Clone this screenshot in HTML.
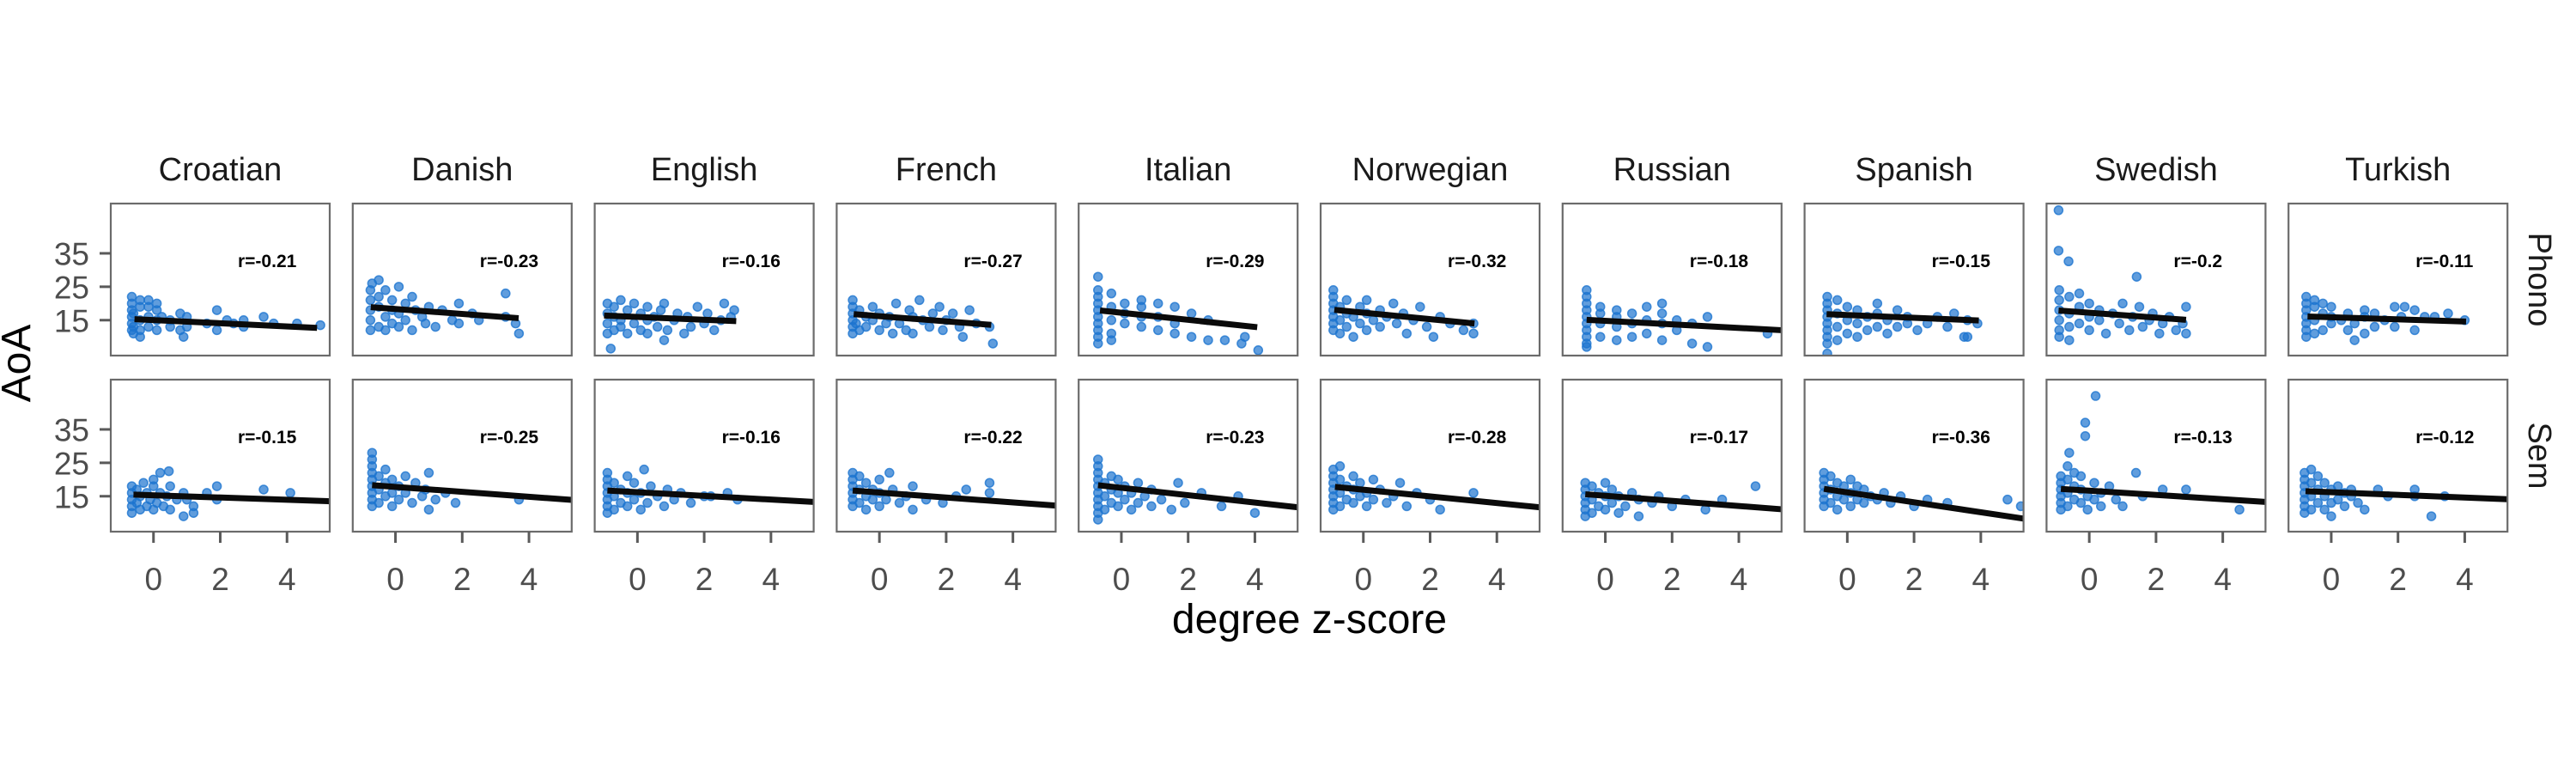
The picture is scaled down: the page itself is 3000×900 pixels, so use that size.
<!DOCTYPE html>
<html><head><meta charset="utf-8">
<style>
html,body{margin:0;padding:0;background:#fff;width:3000px;height:900px;overflow:hidden}
svg{display:block}
text{font-family:"Liberation Sans",sans-serif}
</style></head>
<body>
<svg id="chart" width="3000" height="900" viewBox="0 0 3000 900" xmlns="http://www.w3.org/2000/svg">
<text x="0" y="0" font-size="48" fill="#000" text-anchor="middle" transform="translate(35,423) rotate(-90)">AoA</text>
<text x="1525" y="737" font-size="48" fill="#000" text-anchor="middle">degree z-score</text>
<text x="0" y="0" font-size="38" fill="#1a1a1a" text-anchor="middle" transform="translate(2945,325.5) rotate(90)">Phono</text>
<text x="0" y="0" font-size="38" fill="#1a1a1a" text-anchor="middle" transform="translate(2945,530.5) rotate(90)">Sem</text>
</svg>
<script>
const languages = ["Croatian","Danish","English","French","Italian","Norwegian","Russian","Spanish","Swedish","Turkish"];
const rows = ["Phono","Sem"];
const yTicks = [15,25,35];
const xTicks = [0,2,4];
const rPhono = ["r=-0.21","r=-0.23","r=-0.16","r=-0.27","r=-0.29","r=-0.32","r=-0.18","r=-0.15","r=-0.2","r=-0.11"];
const rSem = ["r=-0.15","r=-0.25","r=-0.16","r=-0.22","r=-0.23","r=-0.28","r=-0.17","r=-0.36","r=-0.13","r=-0.12"];
// regression line endpoints (x0,x1,y0,y1)
const linePhonoX0 = [-0.57,-0.74,-1.0,-0.77,-0.64,-0.87,-0.56,-0.62,-0.92,-0.71];
const linePhonoX1 = [4.9,3.69,2.96,3.35,4.07,3.33,5.28,3.94,2.9,4.04];
const linePhonoY0 = [15.3,18.9,16.4,16.8,17.9,18.1,15.1,16.8,17.9,16.1];
const linePhonoY1 = [12.7,15.6,14.7,13.6,12.9,14.0,12.0,14.9,15.1,14.6];
const lineSemX0 = [-0.6,-0.7,-0.9,-0.8,-0.7,-0.85,-0.6,-0.7,-0.85,-0.77];
const lineSemX1 = [5.28,5.28,5.28,5.28,5.28,5.28,5.28,5.28,5.28,5.28];
const lineSemY0 = [15.5,18.3,16.7,16.7,18.3,17.8,15.6,17.2,17.2,16.5];
const lineSemY1 = [13.5,13.9,13.3,12.2,11.7,11.7,11.1,8.3,13.3,14.1];

const ptsCroatianPhono = [[-0.65,12],[-0.65,14],[-0.65,16],[-0.65,18],[-0.65,20],[-0.65,22],[-0.6,13],[-0.6,17],[-0.6,11],[-0.4,12],[-0.4,15],[-0.4,19],[-0.4,21],[-0.4,10],[-0.15,13],[-0.15,16],[-0.15,19],[-0.15,21],[0.1,12],[0.1,15],[0.1,18],[0.1,20],[0.25,16],[0.5,15],[0.5,13],[0.8,17],[0.8,12],[0.9,10],[1.0,16],[1.0,13],[1.6,14],[1.9,18],[1.9,12],[2.2,15],[2.4,14],[2.7,15],[2.7,13],[3.3,16],[3.6,14],[4.3,14],[5.0,13.5]];
const ptsDanishPhono = [[-0.75,12],[-0.75,15],[-0.75,18],[-0.75,21],[-0.75,24],[-0.7,26],[-0.5,27],[-0.5,13],[-0.5,19],[-0.5,22],[-0.3,24],[-0.3,16],[-0.3,12],[-0.1,14],[-0.1,18],[-0.1,21],[0.1,25],[0.1,17],[0.1,13],[0.3,20],[0.3,15],[0.5,22],[0.5,12],[0.6,18],[0.8,16],[0.9,14],[1.0,19],[1.2,13],[1.4,18],[1.7,15],[1.9,20],[1.9,14],[2.3,17],[2.5,15],[3.3,16],[3.6,14],[3.3,23],[3.7,11]];
const ptsEnglishPhono = [[-0.9,11],[-0.9,14],[-0.9,17],[-0.9,20],[-0.7,12],[-0.7,16],[-0.7,19],[-0.5,13],[-0.5,21],[-0.5,15],[-0.3,11],[-0.3,18],[-0.1,14],[-0.1,20],[0.1,12],[0.1,17],[0.3,15],[0.3,19],[0.3,11],[0.5,16],[0.6,13],[0.7,18],[0.8,20],[0.9,12],[1.1,15],[1.2,17],[1.4,11],[1.5,16],[1.6,13],[1.8,19],[2.0,14],[2.1,17],[2.3,12],[2.5,15],[2.6,20],[2.8,16],[2.9,18],[-0.8,6.5],[0.8,9]];
const ptsFrenchPhono = [[-0.8,11],[-0.8,13],[-0.8,15],[-0.8,17],[-0.8,19],[-0.8,21],[-0.7,14],[-0.6,12],[-0.6,18],[-0.4,16],[-0.4,13],[-0.2,15],[-0.2,19],[0,12],[0,17],[0.2,14],[0.3,16],[0.4,11],[0.5,20],[0.6,14],[0.8,12],[0.9,18],[1.0,16],[1.2,21],[1.3,15],[1.5,13],[1.6,17],[1.8,19],[1.9,12],[2.0,15],[2.2,17],[2.4,13],[2.5,10],[2.7,18],[2.9,14],[3.3,13],[3.4,8],[1.0,11]];
const ptsItalianPhono = [[-0.7,10],[-0.7,12],[-0.7,14],[-0.7,16],[-0.7,18],[-0.7,20],[-0.7,22],[-0.7,24],[-0.7,28],[-0.7,8],[-0.3,11],[-0.3,15],[-0.3,19],[-0.3,23],[-0.3,9],[0.1,14],[0.1,17],[0.1,20],[0.6,13],[0.6,16],[0.6,19],[0.6,21],[1.1,12],[1.1,16],[1.1,20],[1.6,11],[1.6,14],[1.6,19],[2.1,10],[2.1,17],[2.6,9],[2.6,15],[3.1,9],[3.6,8],[3.7,10],[4.1,6]];
const ptsNorwegianPhono = [[-0.9,12],[-0.9,14],[-0.9,16],[-0.9,18],[-0.9,20],[-0.9,22],[-0.9,24],[-0.7,11],[-0.7,15],[-0.7,19],[-0.5,13],[-0.5,17],[-0.5,21],[-0.3,10],[-0.3,16],[-0.1,14],[-0.1,19],[0.1,12],[0.1,17],[0.1,21],[0.3,15],[0.5,18],[0.5,13],[0.7,16],[0.9,20],[1.0,14],[1.2,17],[1.3,11],[1.5,15],[1.7,19],[1.9,13],[2.1,10],[2.3,16],[2.6,14],[3.0,12],[3.3,14],[3.3,11]];
const ptsRussianPhono = [[-0.56,8],[-0.56,10],[-0.56,12],[-0.56,14],[-0.56,16],[-0.56,18],[-0.56,20],[-0.56,22],[-0.56,24],[-0.56,7],[-0.15,10],[-0.15,14],[-0.15,17],[-0.15,19],[0.34,9],[0.34,13],[0.34,16],[0.34,18],[0.8,10],[0.8,14],[0.8,17],[1.24,11],[1.24,15],[1.24,19],[1.7,9],[1.7,14],[1.7,20],[1.7,17],[2.14,12],[2.14,15],[2.6,14],[2.6,8],[3.06,7],[3.06,16],[4.86,11]];
const ptsSpanishPhono = [[-0.6,8],[-0.6,10],[-0.6,12],[-0.6,14],[-0.6,16],[-0.6,18],[-0.6,20],[-0.6,22],[-0.6,5],[-0.3,9],[-0.3,13],[-0.3,17],[-0.3,21],[0,11],[0,15],[0,19],[0.3,10],[0.3,14],[0.3,18],[0.6,12],[0.6,16],[0.9,13],[0.9,17],[0.9,20],[1.2,11],[1.2,15],[1.5,18],[1.5,13],[1.8,14],[1.8,16],[2.1,12],[2.4,14],[2.7,16],[3.0,13],[3.2,17],[3.5,10],[3.6,15],[3.9,14],[3.6,10]];
const ptsSwedishPhono = [[-0.92,47.9],[-0.92,35.8],[-0.62,32.6],[1.42,28],[-0.9,12],[-0.9,15],[-0.9,18],[-0.9,21],[-0.9,24],[-0.9,10],[-0.6,13],[-0.6,17],[-0.6,22],[-0.6,9],[-0.3,14],[-0.3,19],[-0.3,23],[0,12],[0,16],[0,20],[0.3,15],[0.3,18],[0.5,11],[0.7,17],[0.9,14],[1.0,20],[1.2,12],[1.3,16],[1.5,19],[1.6,13],[1.8,15],[1.9,17],[2.1,11],[2.2,14],[2.4,16],[2.6,12],[2.8,14],[2.9,19],[2.9,11]];
const ptsTurkishPhono = [[-0.75,10],[-0.75,12],[-0.75,14],[-0.75,16],[-0.75,18],[-0.75,20],[-0.75,22],[-0.5,11],[-0.5,15],[-0.5,19],[-0.5,21],[-0.25,12],[-0.25,17],[-0.25,20],[0,14],[0,16],[0,19],[0.3,15],[0.5,17],[0.5,12],[0.7,9],[0.7,14],[1.0,16],[1.0,11],[1.0,18],[1.3,13],[1.3,17],[1.6,15],[1.9,13],[1.9,19],[2.1,16],[2.2,19],[2.5,18],[2.5,12],[2.8,16],[3.1,16],[3.5,17],[4.0,15]];

const ptsCroatianSem = [[-0.65,12],[-0.65,14],[-0.65,16],[-0.65,18],[-0.65,10],[-0.5,13],[-0.5,17],[-0.4,11],[-0.4,15],[-0.3,19],[-0.2,12],[-0.2,16],[-0.1,14],[0,18],[0,20],[0,11],[0.1,13],[0.2,16],[0.2,22],[0.3,12],[0.4,15],[0.5,18],[0.5,11],[0.7,14],[0.9,9],[0.9,16],[1.0,14],[1.2,10],[1.2,12],[0.46,22.5],[1.6,16],[1.9,18],[1.9,14],[3.3,17],[4.1,16]];
const ptsDanishSem = [[-0.7,12],[-0.7,14],[-0.7,16],[-0.7,18],[-0.7,20],[-0.7,22],[-0.7,24],[-0.7,26],[-0.7,28],[-0.5,13],[-0.5,17],[-0.5,21],[-0.3,15],[-0.3,19],[-0.3,23],[-0.1,12],[-0.1,16],[-0.1,20],[0.1,14],[0.1,18],[0.3,16],[0.3,21],[0.5,13],[0.6,19],[0.8,15],[0.9,17],[1.0,22],[1.2,14],[1.5,16],[1.8,13],[3.7,14],[1.0,11]];
const ptsEnglishSem = [[-0.9,10],[-0.9,12],[-0.9,14],[-0.9,16],[-0.9,18],[-0.9,20],[-0.9,22],[-0.7,11],[-0.7,15],[-0.7,19],[-0.5,13],[-0.5,17],[-0.3,12],[-0.3,16],[-0.3,21],[-0.1,14],[-0.1,19],[0.1,11],[0.1,16],[0.2,23],[0.3,13],[0.4,18],[0.6,15],[0.8,12],[0.9,17],[1.1,14],[1.3,16],[1.6,13],[2.0,15],[2.2,15],[2.7,16],[3.0,14]];
const ptsFrenchSem = [[-0.8,12],[-0.8,14],[-0.8,16],[-0.8,18],[-0.8,20],[-0.8,22],[-0.6,13],[-0.6,17],[-0.6,21],[-0.4,11],[-0.4,15],[-0.4,19],[-0.2,14],[-0.2,17],[0,12],[0,16],[0,20],[0.2,14],[0.3,22],[0.4,17],[0.6,13],[0.8,15],[1.0,11],[1.0,18],[1.4,14],[1.9,13],[2.3,15],[2.6,17],[3.3,16],[3.3,19]];
const ptsItalianSem = [[-0.7,8],[-0.7,10],[-0.7,12],[-0.7,14],[-0.7,16],[-0.7,18],[-0.7,20],[-0.7,22],[-0.7,24],[-0.7,26],[-0.5,11],[-0.5,15],[-0.5,19],[-0.3,13],[-0.3,17],[-0.3,21],[-0.1,12],[-0.1,16],[-0.1,20],[0.1,14],[0.1,18],[0.3,11],[0.3,16],[0.5,13],[0.5,19],[0.7,15],[0.9,12],[0.9,17],[1.2,14],[1.5,11],[1.7,19],[1.9,13],[2.4,16],[3.0,12],[3.5,15],[4.0,10]];
const ptsNorwegianSem = [[-0.9,11],[-0.9,13],[-0.9,15],[-0.9,17],[-0.9,19],[-0.9,21],[-0.9,23],[-0.7,12],[-0.7,16],[-0.7,20],[-0.7,24],[-0.5,14],[-0.5,18],[-0.3,13],[-0.3,17],[-0.3,21],[-0.1,15],[-0.1,19],[0.1,12],[0.1,16],[0.3,14],[0.3,20],[0.5,17],[0.7,13],[0.9,15],[1.1,19],[1.3,12],[1.6,16],[2.0,14],[2.3,11],[3.3,16]];
const ptsRussianSem = [[-0.6,9],[-0.6,11],[-0.6,13],[-0.6,15],[-0.6,17],[-0.6,19],[-0.4,10],[-0.4,14],[-0.4,18],[-0.2,12],[-0.2,16],[0,11],[0,15],[0,19],[0.2,13],[0.2,17],[0.4,10],[0.4,15],[0.6,12],[0.8,16],[1.0,14],[1.0,9],[1.4,13],[1.6,15],[2.0,12],[2.4,14],[3.0,11],[3.5,14],[4.5,18]];
const ptsSpanishSem = [[-0.7,12],[-0.7,14],[-0.7,16],[-0.7,18],[-0.7,20],[-0.7,22],[-0.5,13],[-0.5,17],[-0.5,21],[-0.3,11],[-0.3,15],[-0.3,19],[-0.1,14],[-0.1,18],[0.1,12],[0.1,16],[0.1,20],[0.3,14],[0.3,18],[0.5,13],[0.5,17],[0.7,15],[0.9,14],[1.1,16],[1.3,13],[1.6,15],[2.0,12],[2.4,14],[3.0,13],[4.8,14],[5.2,12]];
const ptsSwedishSem = [[0.19,45],[-0.12,37],[-0.12,33],[-0.6,28],[-0.85,11],[-0.85,13],[-0.85,15],[-0.85,17],[-0.85,19],[-0.85,21],[-0.65,12],[-0.65,16],[-0.65,20],[-0.65,24],[-0.45,14],[-0.45,18],[-0.45,22],[-0.25,13],[-0.25,17],[-0.25,21],[-0.05,11],[-0.05,15],[0.15,19],[0.15,14],[0.35,16],[0.35,12],[0.6,18],[0.8,14],[1.0,12],[1.4,22],[1.6,15],[2.2,17],[2.9,17],[4.5,11]];
const ptsTurkishSem = [[-0.8,10],[-0.8,12],[-0.8,14],[-0.8,16],[-0.8,18],[-0.8,20],[-0.8,22],[-0.6,11],[-0.6,15],[-0.6,19],[-0.6,23],[-0.4,13],[-0.4,17],[-0.4,21],[-0.2,11],[-0.2,15],[-0.2,19],[0,13],[0,17],[0,9],[0.2,14],[0.2,18],[0.4,12],[0.4,16],[0.6,15],[0.6,17],[0.8,13],[1.0,11],[1.4,17],[1.7,15],[2.5,17],[2.5,15],[3.0,9],[3.4,15]];

const ptsPhono = [ptsCroatianPhono,ptsDanishPhono,ptsEnglishPhono,ptsFrenchPhono,ptsItalianPhono,ptsNorwegianPhono,ptsRussianPhono,ptsSpanishPhono,ptsSwedishPhono,ptsTurkishPhono];
const ptsSem = [ptsCroatianSem,ptsDanishSem,ptsEnglishSem,ptsFrenchSem,ptsItalianSem,ptsNorwegianSem,ptsRussianSem,ptsSpanishSem,ptsSwedishSem,ptsTurkishSem];

const NS = "http://www.w3.org/2000/svg";
const svg = document.getElementById("chart");
const PL = 129, PITCH = 281.8, PW = 255, PH = 177;
const ROWTOP = [237, 442];
const XMIN = -1.28, XMAX = 5.28, YMIN = 4.4, YMAX = 49.9;
function xs(col, v){ return PL + col*PITCH + (v - XMIN)/(XMAX - XMIN)*PW; }
function ys(row, v){ return ROWTOP[row] + PH - (v - YMIN)/(YMAX - YMIN)*PH; }
function mk(tag, attrs, parent){
  const e = document.createElementNS(NS, tag);
  for (const k in attrs) e.setAttribute(k, attrs[k]);
  (parent || svg).appendChild(e);
  return e;
}

languages.forEach((lang, c) => {
  const cx = PL + c*PITCH + PW/2;
  const st = mk("text", {x: cx, y: 210, "font-size": 38, fill: "#1a1a1a", "text-anchor": "middle"});
  
  
  st.textContent = lang;

  rows.forEach((rowName, r) => {
    const g = mk("g", {});
    
    
    const left = PL + c*PITCH, top = ROWTOP[r];
    const clipId = "clip" + c + "_" + r;
    const cp = mk("clipPath", {id: clipId}, g);
    mk("rect", {x: left, y: top, width: PW, height: PH}, cp);
    const bg = mk("rect", {x: left, y: top, width: PW, height: PH, fill: "#fff"}, g);
    
    
    const pg = mk("g", {"clip-path": "url(#" + clipId + ")"}, g);
    const pts = r === 0 ? ptsPhono[c] : ptsSem[c];
    pts.forEach(p => {
      const d = mk("circle", {cx: xs(c, p[0]), cy: ys(r, p[1]), r: 5, fill: "#1c74cf", "fill-opacity": 0.7, stroke: "#1c74cf", "stroke-opacity": 0.8, "stroke-width": 1.5}, pg);
      
      
    });
    const X0 = r === 0 ? linePhonoX0 : lineSemX0, X1 = r === 0 ? linePhonoX1 : lineSemX1;
    const Y0 = r === 0 ? linePhonoY0 : lineSemY0, Y1 = r === 0 ? linePhonoY1 : lineSemY1;
    const ln = mk("line", {x1: xs(c, X0[c]), y1: ys(r, Y0[c]), x2: xs(c, X1[c]), y2: ys(r, Y1[c]), stroke: "#0a0a0a", "stroke-width": 7}, pg);
    
    
    const border = mk("rect", {x: left, y: top, width: PW, height: PH, fill: "none", stroke: "#6b6b6b", "stroke-width": 2.2}, g);
    
    
    const rt = mk("text", {x: left + 148, y: top + 74, "font-size": 21, "font-weight": "bold", fill: "#000"}, g);
    
    
    rt.textContent = r === 0 ? rPhono[c] : rSem[c];
  });

  xTicks.forEach(t => {
    const x = xs(c, t);
    const tk = mk("line", {x1: x, y1: 619, x2: x, y2: 632, stroke: "#5a5a5a", "stroke-width": 3});
    
    
    const tl = mk("text", {x: x, y: 687, "font-size": 37, fill: "#4d4d4d", "text-anchor": "middle"});
    
    
    tl.textContent = t;
  });
});

rows.forEach((rowName, r) => {
  yTicks.forEach(t => {
    const y = ys(r, t);
    const tk = mk("line", {x1: 116, y1: y, x2: 129, y2: y, stroke: "#5a5a5a", "stroke-width": 3});
    
    
    const tl = mk("text", {x: 104, y: y + 13.5, "font-size": 37, fill: "#4d4d4d", "text-anchor": "end"});
    
    
    tl.textContent = t;
  });
});
</script>
</body></html>
